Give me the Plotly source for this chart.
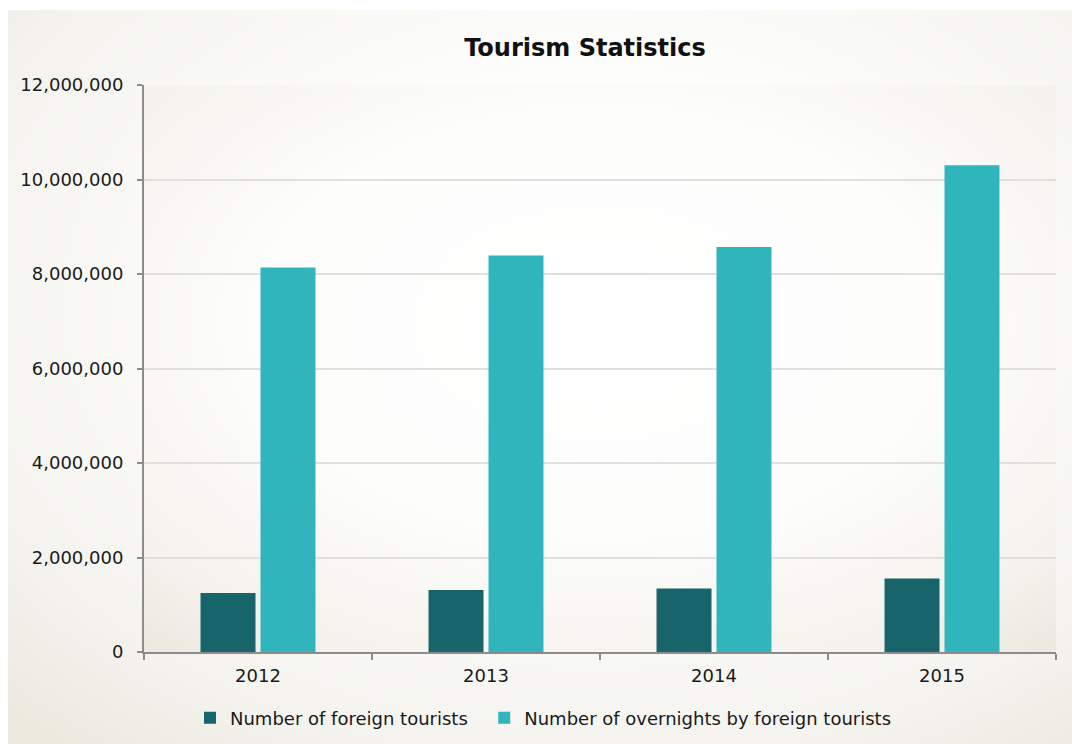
import base64
import plotly.graph_objects as go

# Tourism figures per year
years = ["2012", "2013", "2014", "2015"]
foreign_tourists = [1247000, 1310000, 1345000, 1557000]
overnights = [8140000, 8390000, 8570000, 10300000]
series_names = ["Number of foreign tourists", "Number of overnights by foreign tourists"]
y_ticks = [0, 2000000, 4000000, 6000000, 8000000, 10000000, 12000000]
y_tick_text = ["0", "2,000,000", "4,000,000", "6,000,000", "8,000,000", "10,000,000", "12,000,000"]

W, H = 1072, 744
ML, MR, MT, MB = 144, 16, 85, 92
PW, PH = W - ML - MR, H - MT - MB


def radial_svg(cx, cy, r, stops):
    stop_xml = "".join(
        f'<stop offset="{o}" stop-color="{c}"/>' for o, c in stops
    )
    svg = (
        '<svg xmlns="http://www.w3.org/2000/svg" width="400" height="300" '
        'preserveAspectRatio="none" viewBox="0 0 400 300">'
        f'<defs><radialGradient id="g" cx="{cx}" cy="{cy}" r="{r}">{stop_xml}'
        '</radialGradient></defs>'
        '<rect width="400" height="300" fill="url(#g)"/></svg>'
    )
    return "data:image/svg+xml;base64," + base64.b64encode(svg.encode()).decode()


def px_to_paper_x(px):
    return (px - ML) / PW


def px_to_paper_y(py):
    return (H - MB - py) / PH


panel_bg = radial_svg(0.55, 0.40, 0.78, [(0, "#ffffff"), (0.4, "#fdfdfc"), (0.8, "#f4f3ee"), (1, "#ece9df")])
plot_bg = radial_svg(0.50, 0.42, 0.75, [(0, "#ffffff"), (0.5, "#fdfdfc"), (0.85, "#f4f2ec"), (1, "#ece9e0")])

fig = go.Figure()
fig.add_trace(go.Bar(
    x=years, y=foreign_tourists,
    # a little padding after the first legend entry
    name=series_names[0] + "\u00a0\u00a0",
    marker=dict(color="#17646a", line=dict(width=0)),
))
fig.add_trace(go.Bar(
    x=years, y=overnights, name=series_names[1],
    marker=dict(color="#31b5bc", line=dict(width=0)),
))

fig.update_layout(
    width=W, height=H,
    margin=dict(l=ML, r=MR, t=MT, b=MB, pad=0, autoexpand=False),
    paper_bgcolor="#ffffff",
    plot_bgcolor="rgba(0,0,0,0)",
    font=dict(family="DejaVu Sans", size=18, color="#1a1a1a"),
    barmode="group",
    bargap=0.474,
    bargroupgap=0.083,
    title=dict(
        text="<b>Tourism Statistics</b>",
        x=px_to_paper_x(585), xref="paper", xanchor="center",
        y=1 - 48 / H, yref="container", yanchor="middle",
        font=dict(family="DejaVu Sans", size=24, color="#111111"),
    ),
    showlegend=True,
    legend=dict(
        orientation="h",
        x=px_to_paper_x(190), xanchor="left",
        yref="container", y=(H - 718) / H, yanchor="middle",
        font=dict(family="DejaVu Sans", size=18, color="#1a1a1a"),
        bgcolor="rgba(0,0,0,0)",
        itemwidth=30,
        traceorder="normal",
    ),
    images=[
        dict(
            source=panel_bg, xref="paper", yref="paper",
            x=px_to_paper_x(8), y=px_to_paper_y(10),
            sizex=(W - 8) / PW, sizey=(H - 10) / PH,
            sizing="stretch", layer="below", xanchor="left", yanchor="top",
        ),
        dict(
            source=plot_bg, xref="paper", yref="paper",
            x=0, y=1, sizex=1, sizey=1,
            sizing="stretch", layer="below", xanchor="left", yanchor="top",
        ),
    ],
)

fig.update_xaxes(
    showline=True, linecolor="#8c8c8c", linewidth=2,
    ticks="outside", tickson="boundaries", ticklen=6, tickcolor="#8c8c8c", tickwidth=1.5,
    showgrid=False, ticklabelstandoff=6,
    tickfont=dict(family="DejaVu Sans", size=18, color="#1a1a1a"),
)
fig.update_yaxes(
    range=[0, 12000000],
    tickvals=y_ticks, ticktext=y_tick_text,
    showline=True, linecolor="#8c8c8c", linewidth=2,
    ticks="outside", ticklen=5, tickcolor="#8c8c8c", tickwidth=1.5,
    showgrid=True, gridcolor="#e2e0da", gridwidth=1.5,
    zeroline=False, ticklabelstandoff=10,
    tickfont=dict(family="DejaVu Sans", size=18, color="#1a1a1a"),
)

fig.write_html("out.html")
